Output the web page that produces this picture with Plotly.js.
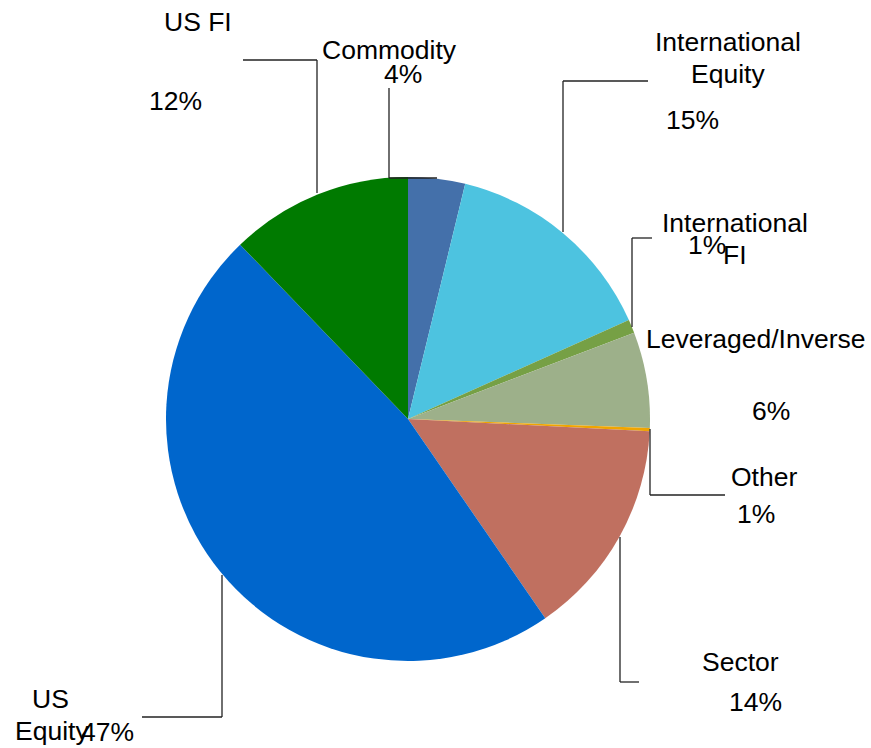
<!DOCTYPE html>
<html>
<head>
<meta charset="utf-8">
<script src="https://cdn.plot.ly/plotly-3.0.1.min.js"></script>
<style>html,body{margin:0;padding:0;background:#fff;}#chart{width:871px;height:748px;}</style>
</head>
<body>
<div id="chart"></div>
<script>
// ---- data ----
var categories = ['Commodity', 'International Equity', 'International FI', 'Leveraged/Inverse', 'Other', 'Sector', 'US Equity', 'US FI'];
var shares = [3.8, 14.5, 0.9, 6.4, 0.2, 14.6, 47.4, 12.2];
var pctLabels = ['4%', '15%', '1%', '6%', '1%', '14%', '47%', '12%'];
var colors = ['#4470AA', '#4DC3E0', '#76A045', '#9DB08A', '#F0A500', '#C07060', '#0066CC', '#007A00'];

// ---- layout helpers (pixel positions) ----
var W = 871, H = 748;
var FONT = 'Liberation Sans, Arial, sans-serif';
var FS = 26.5;
function px(x) { return x / W; }
function py(y) { return 1 - y / H; }

// label line positions (one entry per displayed line of the category name)
var namePos = [
  [[389, 50]],
  [[728, 42], [728, 74]],
  [[735, 223], [735, 255]],
  [[756, 339]],
  [[764, 477]],
  [[740, 662]],
  [[50, 699], [52, 731]],
  [[198, 22]]
];
var pctPos = [[403, 74], [692, 120], [707, 245], [771, 411], [756, 514], [755, 702], [107, 732], [175, 101]];
var leaders = [
  [[389, 88], [389, 178], [437, 178]],
  [[648, 81], [563, 81], [563, 232]],
  [[652, 238], [632, 238], [632, 327]],
  [],
  [[650, 429], [650, 495], [725, 495]],
  [[620, 537], [620, 682], [639, 682]],
  [[222, 575], [222, 717], [142, 717]],
  [[243, 60], [317, 60], [317, 193]]
];

var annotations = [];
categories.forEach(function (c, i) {
  var pos = namePos[i];
  var parts = pos.length > 1 ? c.split(' ') : [c];
  pos.forEach(function (p, k) {
    annotations.push({
      xref: 'paper', yref: 'paper', x: px(p[0]), y: py(p[1]),
      xanchor: 'center', yanchor: 'middle', showarrow: false,
      text: parts[k], font: {family: FONT, size: FS, color: '#000'}
    });
  });
  annotations.push({
    xref: 'paper', yref: 'paper', x: px(pctPos[i][0]), y: py(pctPos[i][1]),
    xanchor: 'center', yanchor: 'middle', showarrow: false,
    text: pctLabels[i], font: {family: FONT, size: FS, color: '#000'}
  });
});

var shapes = [];
leaders.forEach(function (pts) {
  for (var k = 0; k + 1 < pts.length; k++) {
    shapes.push({
      type: 'line', xref: 'paper', yref: 'paper',
      x0: px(pts[k][0]), y0: py(pts[k][1]), x1: px(pts[k + 1][0]), y1: py(pts[k + 1][1]),
      line: {color: '#222', width: 1.3}
    });
  }
});

var trace = {
  type: 'pie',
  labels: categories,
  values: shares,
  sort: false,
  direction: 'clockwise',
  rotation: 0,
  textinfo: 'none',
  hoverinfo: 'label+percent',
  marker: {colors: colors, line: {width: 0}},
  domain: {x: [px(166), px(650)], y: [py(661), py(177)]},
  showlegend: false
};

var layout = {
  width: W, height: H,
  margin: {l: 0, r: 0, t: 0, b: 0},
  paper_bgcolor: '#fff',
  plot_bgcolor: '#fff',
  showlegend: false,
  annotations: annotations,
  shapes: shapes
};

Plotly.newPlot('chart', [trace], layout, {displayModeBar: false, staticPlot: true});
</script>
</body>
</html>
